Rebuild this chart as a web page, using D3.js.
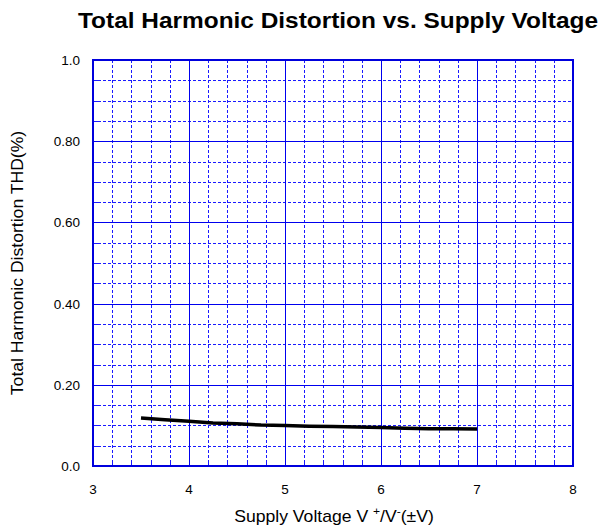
<!DOCTYPE html>
<html>
<head>
<meta charset="utf-8">
<script src="https://cdn.jsdelivr.net/npm/d3@7"></script>
<style>
  body { margin: 0; background: #fff; }
  text { font-family: "Liberation Sans", Arial, sans-serif; fill: #000; }
</style>
</head>
<body>
<div id="chart"></div>
<script>
// data
var voltage = [3.5, 3.75, 4, 4.25, 4.5, 4.75, 5, 5.25, 5.5, 5.75, 6, 6.25, 6.5, 6.75, 7];
var thd = [0.118, 0.114, 0.110, 0.106, 0.104, 0.101, 0.100, 0.098, 0.097, 0.096, 0.095, 0.093, 0.092, 0.092, 0.091];
var xTicks = [3, 4, 5, 6, 7, 8];
var yTicks = [0, 0.2, 0.4, 0.6, 0.8, 1.0];
var yTickLabels = ["0.0", "0.20", "0.40", "0.60", "0.80", "1.0"];

function init() {
    var w = 598, h = 530;
    var left = 93, right = 573, top = 60, bottom = 466;
    var blue = "#1a1aff";

    var svg = d3.select("#chart").append("svg").attr("width", w).attr("height", h);

    var x = d3.scaleLinear().domain([3, 8]).range([left, right]);
    var y = d3.scaleLinear().domain([0, 1]).range([bottom, top]);
    var px = v => Math.round(x(v)) + 0.5;
    var py = v => Math.round(y(v)) + 0.5;

    // minor grid every 0.2 V and every 0.05 %
    var minorX = d3.range(1, 25).map(i => 3 + i * 0.2).filter((v, i) => (i + 1) % 5 != 0);
    var minorY = d3.range(1, 20).map(i => i * 0.05).filter((v, i) => (i + 1) % 4 != 0);

    var grid = svg.append("g").attr("stroke", blue).attr("stroke-width", 1).attr("shape-rendering", "crispEdges");

    grid.append("g").selectAll("line").data(minorX).enter().append("line")
        .attr("x1", px).attr("x2", px)
        .attr("y1", top).attr("y2", bottom)
        .attr("stroke-dasharray", "3,2");
    grid.append("g").selectAll("line").data(minorY).enter().append("line")
        .attr("x1", left).attr("x2", right)
        .attr("y1", py).attr("y2", py)
        .attr("stroke-dasharray", "3,2");

    // inside tick marks
    grid.append("g").selectAll("line").data(minorY).enter().append("line")
        .attr("x1", left).attr("x2", left + 6)
        .attr("y1", py).attr("y2", py);
    grid.append("g").selectAll("line").data(minorX).enter().append("line")
        .attr("x1", px).attr("x2", px)
        .attr("y1", bottom).attr("y2", bottom - 6);

    // major grid
    grid.append("g").selectAll("line").data(xTicks.slice(1, -1)).enter().append("line")
        .attr("x1", px).attr("x2", px)
        .attr("y1", top).attr("y2", bottom)
        .attr("stroke", "#0000ee");
    grid.append("g").selectAll("line").data(yTicks.slice(1, -1)).enter().append("line")
        .attr("x1", left).attr("x2", right)
        .attr("y1", py).attr("y2", py)
        .attr("stroke", "#0000ee");

    // frame
    svg.append("rect")
        .attr("x", left).attr("y", top)
        .attr("width", right - left).attr("height", bottom - top)
        .attr("fill", "none").attr("stroke", "#0000dd").attr("stroke-width", 2);

    // tick labels
    svg.append("g").selectAll("text").data(yTicks).enter().append("text")
        .attr("x", left - 13).attr("y", d => y(d) + 5)
        .attr("text-anchor", "end").attr("font-size", 13.5)
        .text((d, i) => yTickLabels[i]);

    svg.append("g").selectAll("text").data(xTicks).enter().append("text")
        .attr("x", d => x(d)).attr("y", bottom + 28)
        .attr("text-anchor", "middle").attr("font-size", 13.5)
        .text(d => d);

    // data line
    var line = d3.line()
        .x((d, i) => x(voltage[i]))
        .y(d => y(d));
    svg.append("path").attr("d", line(thd))
        .attr("fill", "none").attr("stroke", "#000").attr("stroke-width", 3.5);

    // titles (text in the picture is a bit wider than Arial, hence scaleX)
    svg.append("text")
        .attr("transform", "translate(338,28) scale(1.11,1)")
        .attr("text-anchor", "middle").attr("font-size", 22).attr("font-weight", "bold")
        .text("Total Harmonic Distortion vs. Supply Voltage");

    svg.append("text")
        .attr("transform", "translate(23," + ((top + bottom) / 2) + ") rotate(-90) scale(1.1,1)")
        .attr("text-anchor", "middle").attr("font-size", 16)
        .text("Total Harmonic Distortion THD(%)");

    var xt = svg.append("text")
        .attr("transform", "translate(334,522) scale(1.1,1)")
        .attr("text-anchor", "middle").attr("font-size", 16);
    xt.append("tspan").text("Supply Voltage V ");
    xt.append("tspan").attr("dy", -7).attr("font-size", 11).text("+");
    xt.append("tspan").attr("dy", 7).text("/V");
    xt.append("tspan").attr("dy", -7).attr("font-size", 11).text("-");
    xt.append("tspan").attr("dy", 7).text("(±V)");
}
window.onload = init;
</script>
</body>
</html>
